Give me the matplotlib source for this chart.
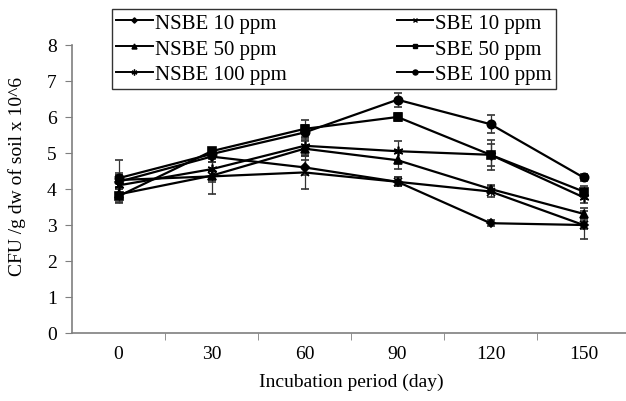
import matplotlib
matplotlib.use("Agg")
import matplotlib.pyplot as plt
import numpy as np

plt.rcParams['font.family'] = ['Liberation Serif', 'DejaVu Serif']

# data
days = ['0', '30', '60', '90', '120', '150']

nsbe_10 = [4.20, 4.90, 4.60, 4.20, 3.05, 3.00]
nsbe_50 = [3.85, 4.37, 5.12, 4.80, 4.00, 3.31]
nsbe_100 = [4.10, 4.55, 5.20, 5.05, 4.95, 3.77]
sbe_10 = [4.25, 4.35, 4.46, 4.20, 3.93, 3.00]
sbe_50 = [3.80, 5.05, 5.67, 6.00, 4.95, 3.93]
sbe_100 = [4.30, 4.97, 5.57, 6.48, 5.80, 4.32]

nsbe_10_err = [0.20, 0.15, 0.20, 0.13, 0.08, 0.10]
nsbe_50_err = [0.20, 0.50, 0.20, 0.25, 0.10, 0.15]
nsbe_100_err = [0.30, 0.20, 0.25, 0.28, 0.30, 0.15]
sbe_10_err = [0.20, 0.15, 0.45, 0.13, 0.15, 0.40]
sbe_50_err = [0.20, 0.10, 0.25, 0.10, 0.42, 0.15]
sbe_100_err = [0.50, 0.15, 0.20, 0.19, 0.25, 0.10]

series = [
    ('NSBE 10 ppm', nsbe_10, nsbe_10_err, 'D', 4.5),
    ('NSBE 50 ppm', nsbe_50, nsbe_50_err, '^', 6),
    ('NSBE 100 ppm', nsbe_100, nsbe_100_err, (6, 2, 0), 7),
    ('SBE 10 ppm', sbe_10, sbe_10_err, 'x', 6),
    ('SBE 50 ppm', sbe_50, sbe_50_err, 's', 5.5),
    ('SBE 100 ppm', sbe_100, sbe_100_err, 'o', 6),
]

fig = plt.figure(figsize=(6.26, 4.02), dpi=100)
ax = fig.add_axes([72 / 626, 1 - 334 / 402, 558 / 626, 288 / 402])

x = np.arange(len(days))
for label, vals, err, mk, ms in series:
    ax.errorbar(x, vals, yerr=err, color='black', lw=1.6, marker=mk,
                markersize=ms, mew=1.2, ecolor='#333333', elinewidth=0.9,
                capsize=3, capthick=0.9, label=label)

ax.set_xlim(-0.5, len(days) - 0.5)
ax.set_ylim(0, 8)
ax.set_yticks(range(0, 9))
ax.set_xticks(x)
ax.set_xticklabels(days)
ax.set_xticks(np.arange(0.5, len(days) - 0.5, 1), minor=True)
ax.tick_params(axis='x', which='major', length=0, labelsize=14, pad=9)
ax.tick_params(axis='x', which='minor', length=5, color='#7f7f7f', direction='out')
ax.tick_params(axis='y', length=5, color='#7f7f7f', direction='out', labelsize=14, pad=6)

for s in ['top', 'right']:
    ax.spines[s].set_visible(False)
for s in ['left', 'bottom']:
    ax.spines[s].set_color('#7f7f7f')
    ax.spines[s].set_linewidth(1.2)

ax.set_xlabel('Incubation period (day)', fontsize=14, labelpad=7)
fig.text(17 / 626, 1 - 176 / 402, 'CFU /g dw of soil x 10^6', rotation=90,
         ha='center', va='center', fontsize=14)

# legend handles without error bars
leg_lines = [plt.Line2D([], [], color='black', lw=1.4, marker=mk, markersize=ms * 0.6, mew=1)
             for _, _, _, mk, ms in series]
leg = fig.legend(leg_lines, [s[0] for s in series],
                 ncol=2, loc='upper left', bbox_to_anchor=(112 / 626, 1 - 10 / 402),
                 fontsize=15, frameon=True, fancybox=False, edgecolor='black',
                 handlelength=1.75, handletextpad=0.1, columnspacing=5.3,
                 labelspacing=0.3, borderpad=0.2, borderaxespad=0)
leg.get_frame().set_linewidth(1.0)

fig.savefig('out.png', dpi=100)
